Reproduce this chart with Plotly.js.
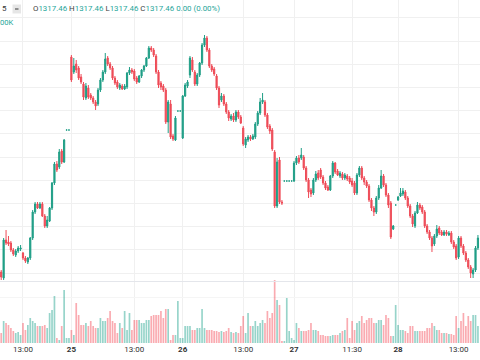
<!DOCTYPE html>
<html><head><meta charset="utf-8">
<script src="https://cdn.plot.ly/plotly-3.0.1.min.js"></script>
<style>html,body{margin:0;padding:0;background:#fff;}#chart{width:480px;height:360px;}</style>
</head><body><div id="chart"></div>
<script>
const openP = [
1317.8,1317.2,1321.0,1320.8,1320.7,1320.0,1319.5,1319.9,1320.1,1319.7,
1319.2,1318.8,1319.2,1321.2,1323.8,1324.6,1324.2,1324.6,1323.4,1322.4,
1322.9,1324.2,1326.7,1328.6,1328.3,1329.9,1328.8,1332.0,1332.0,1339.3,
1337.8,1338.6,1338.2,1337.3,1336.6,1335.2,1336.2,1335.5,1335.2,1334.8,
1334.6,1336.0,1337.0,1337.8,1339.2,1338.6,1338.2,1337.2,1336.8,1336.2,
1336.4,1336.1,1336.3,1337.7,1338.0,1337.9,1337.2,1336.8,1337.4,1338.0,
1338.4,1339.2,1340.2,1340.0,1339.4,1337.8,1336.7,1336.4,1336.0,1332.8,
1334.6,1331.4,1331.0,1333.9,1333.9,1331.2,1335.4,1336.4,1337.5,1339.0,
1337.8,1336.6,1337.5,1338.7,1340.5,1341.2,1340.0,1338.4,1338.1,1337.4,
1336.2,1335.0,1335.4,1334.6,1333.8,1333.1,1333.4,1333.0,1333.8,1333.3,
1332.2,1330.5,1331.0,1331.3,1331.1,1331.3,1332.6,1333.7,1334.8,1334.8,
1333.5,1332.4,1332.0,1329.8,1324.4,1329.0,1324.8,1326.9,1326.9,1326.9,
1326.9,1326.9,1328.7,1329.2,1329.2,1329.3,1328.2,1327.0,1326.0,1325.7,
1327.0,1327.7,1328.0,1327.3,1326.7,1326.3,1326.0,1327.4,1328.7,1327.9,
1327.4,1327.6,1327.2,1327.4,1327.2,1326.9,1326.7,1325.7,1327.5,1328.2,
1327.2,1326.8,1326.4,1325.0,1324.2,1323.8,1325.2,1326.2,1327.4,1326.5,
1325.5,1324.7,1322.1,1324.5,1325.0,1325.4,1325.6,1325.8,1325.2,1324.4,
1323.4,1322.4,1323.7,1324.5,1324.3,1323.8,1322.4,1321.8,1321.2,1320.6,
1321.4,1322.2,1321.8,1321.5,1321.8,1321.5,1321.7,1320.8,1320.4,1319.3,
1321.2,1320.4,1319.7,1319.0,1318.3,1317.6,1318.0,1320.2];
const highP = [
1318.0,1321.2,1322.0,1321.4,1320.9,1320.2,1320.1,1320.4,1320.5,1319.8,
1319.4,1319.3,1321.3,1324.0,1324.8,1324.8,1324.8,1324.8,1323.6,1323.4,
1324.3,1326.8,1328.8,1328.9,1330.1,1330.1,1331.1,1332.0,1332.0,1339.5,
1339.2,1339.0,1338.4,1337.6,1336.8,1336.7,1336.5,1335.7,1335.4,1335.0,
1336.2,1337.2,1338.0,1339.7,1339.4,1338.8,1338.4,1337.4,1337.0,1336.7,
1336.6,1336.6,1337.8,1338.3,1338.2,1338.1,1337.4,1337.5,1338.1,1338.5,
1339.3,1340.4,1340.4,1340.2,1339.6,1338.0,1336.9,1336.6,1336.2,1335.0,
1335.0,1331.6,1333.4,1333.9,1333.9,1335.5,1336.7,1337.0,1339.4,1339.3,
1338.0,1337.7,1338.8,1340.7,1341.5,1341.4,1340.2,1338.6,1338.3,1337.6,
1336.4,1335.7,1335.6,1334.8,1334.0,1333.6,1333.7,1334.0,1334.0,1333.5,
1332.4,1331.3,1331.5,1331.5,1331.6,1332.8,1333.9,1335.2,1335.7,1335.0,
1333.7,1332.6,1332.2,1330.0,1329.2,1329.3,1325.0,1326.9,1326.9,1326.9,
1326.9,1328.9,1329.4,1329.5,1330.2,1329.5,1328.4,1327.2,1326.2,1327.2,
1327.9,1328.0,1328.2,1327.5,1326.9,1326.5,1327.5,1328.9,1328.8,1328.1,
1327.9,1327.8,1327.7,1327.6,1327.4,1327.2,1326.9,1327.7,1328.4,1328.4,
1327.4,1327.0,1326.6,1325.2,1324.4,1325.4,1326.5,1328.0,1327.6,1326.7,
1325.7,1324.9,1322.5,1324.5,1325.4,1326.2,1326.2,1326.0,1325.4,1324.6,
1323.6,1323.9,1324.8,1324.7,1324.5,1324.0,1322.6,1322.0,1321.4,1321.6,
1322.5,1322.4,1322.0,1322.0,1322.0,1321.9,1321.9,1321.0,1320.6,1321.4,
1321.4,1320.6,1319.9,1319.2,1318.5,1318.2,1320.4,1321.5];
const lowP = [
1316.7,1317.0,1320.5,1320.4,1319.8,1319.4,1319.3,1319.7,1319.9,1319.0,
1318.7,1318.6,1319.0,1321.0,1323.6,1324.1,1324.1,1323.3,1322.2,1322.2,
1322.8,1324.0,1326.5,1327.8,1328.1,1328.6,1328.7,1332.0,1332.0,1336.8,
1337.6,1337.7,1337.0,1336.6,1335.0,1335.0,1335.1,1335.0,1334.6,1334.0,
1334.4,1335.8,1336.8,1337.6,1338.4,1338.0,1337.0,1336.5,1336.1,1336.0,
1336.0,1336.0,1336.1,1337.5,1337.6,1336.9,1336.6,1336.7,1337.2,1337.8,
1338.3,1339.1,1339.8,1339.3,1337.6,1336.2,1336.0,1335.8,1332.6,1331.7,
1331.1,1330.9,1330.9,1333.9,1333.9,1331.1,1335.3,1336.2,1337.2,1337.8,
1336.4,1336.4,1337.3,1338.5,1340.3,1339.8,1338.2,1337.8,1337.4,1336.0,
1334.2,1334.8,1334.4,1333.6,1332.9,1332.9,1332.8,1332.8,1333.1,1332.6,
1330.4,1330.2,1330.8,1330.9,1331.0,1331.1,1332.4,1333.5,1334.6,1333.3,
1332.1,1331.6,1329.9,1324.2,1324.2,1324.6,1324.5,1326.9,1326.9,1326.9,
1326.9,1326.8,1328.5,1328.6,1329.0,1328.0,1326.8,1325.2,1325.3,1325.5,
1326.8,1327.0,1327.1,1326.5,1326.0,1325.9,1325.9,1327.2,1327.6,1327.4,
1327.2,1327.0,1327.0,1326.9,1326.6,1326.3,1325.5,1325.5,1327.3,1327.0,
1326.5,1326.2,1324.8,1323.9,1323.4,1323.6,1325.0,1326.1,1326.3,1325.3,
1324.2,1321.1,1322.0,1324.5,1324.9,1325.3,1325.4,1325.0,1324.2,1323.2,
1322.3,1322.2,1323.6,1324.0,1323.6,1322.2,1321.6,1321.0,1319.8,1320.4,
1321.2,1321.5,1321.4,1321.4,1321.4,1321.4,1320.6,1320.1,1319.0,1319.1,
1320.2,1319.5,1318.8,1318.1,1317.2,1317.2,1317.8,1320.0];
const closeP = [
1317.3,1321.0,1320.7,1320.6,1320.0,1319.6,1319.9,1320.2,1320.2,1319.2,
1318.9,1319.2,1321.2,1323.8,1324.6,1324.2,1324.6,1323.4,1322.4,1323.0,
1324.2,1326.7,1328.6,1328.0,1329.8,1328.8,1331.0,1332.0,1332.0,1337.0,
1338.4,1338.0,1337.2,1336.8,1335.3,1336.4,1335.3,1335.2,1334.8,1334.4,
1336.0,1337.0,1337.8,1339.1,1338.6,1338.2,1337.2,1336.7,1336.3,1336.5,
1336.1,1336.4,1337.7,1338.0,1337.8,1337.1,1336.8,1337.4,1338.0,1338.4,
1339.2,1340.2,1340.0,1339.5,1337.8,1336.5,1336.3,1336.0,1332.8,1334.8,
1331.3,1331.1,1333.2,1333.9,1333.9,1335.4,1336.5,1336.8,1339.2,1338.0,
1336.6,1337.5,1338.7,1340.5,1341.2,1340.0,1338.4,1338.0,1337.6,1336.2,
1334.5,1335.4,1334.6,1333.8,1333.2,1333.4,1333.0,1333.8,1333.3,1332.7,
1330.6,1331.1,1331.3,1331.1,1331.4,1332.6,1333.7,1334.8,1335.0,1333.5,
1332.3,1331.9,1330.1,1324.4,1328.8,1324.8,1324.7,1326.9,1326.9,1326.9,
1326.9,1328.7,1329.2,1328.8,1329.5,1328.2,1327.0,1325.8,1325.6,1327.0,
1327.6,1327.2,1327.3,1326.7,1326.2,1326.0,1327.4,1328.7,1327.8,1327.5,
1327.7,1327.2,1327.5,1327.1,1326.8,1326.5,1325.7,1327.5,1328.2,1327.2,
1326.8,1326.4,1325.0,1324.2,1323.8,1325.2,1326.2,1327.4,1326.5,1325.5,
1324.5,1321.3,1322.4,1324.5,1325.3,1325.7,1325.9,1325.2,1324.4,1323.4,
1322.6,1323.7,1324.5,1324.2,1323.8,1322.4,1321.8,1321.2,1320.4,1321.4,
1322.1,1321.7,1321.5,1321.8,1321.6,1321.7,1320.8,1320.3,1319.2,1321.2,
1320.4,1319.7,1319.0,1318.3,1317.7,1318.0,1320.2,1321.2];
const volume = [
1000,2200,2000,1800,1500,1200,1000,1100,800,2000,
1300,1800,2500,2200,2000,1700,1700,1700,1800,1500,
3000,3300,4700,500,300,1700,5300,500,500,1300,
800,4000,2800,1800,1800,2000,1700,2200,1700,1500,
1500,2500,2200,2200,2500,3200,2200,2000,1000,2000,
1500,3200,1300,3000,1300,2300,2300,2300,2000,2000,
2300,2300,2700,2800,2800,2800,3200,2500,3400,3400,
300,800,800,4200,500,500,1700,1700,1700,1300,
1300,1500,1500,3400,1500,1300,1300,1300,1200,1200,
1100,1200,1100,1200,1500,1100,1000,1100,1000,1700,
2700,1000,3000,1700,1700,2200,1700,2000,2300,2000,
3200,2500,3000,6300,4300,3800,200,200,4500,1200,
500,300,2000,1500,1200,1200,1200,1300,2000,1300,
1300,1200,800,800,700,700,700,800,800,800,
1000,1200,1300,2500,500,2200,1300,2000,2200,2700,
2000,2300,2500,2500,2000,2000,2300,2300,1800,2800,
2500,700,700,3800,1800,1300,1300,1200,1000,1700,
1700,1200,1200,1200,1200,1200,1500,1500,2000,1700,
1300,1300,1000,1000,1000,900,900,800,2700,1500,
2200,3000,1700,2700,2200,2800,2800,1700];
const tickIndex = [9, 29, 55, 75, 100, 121, 145, 164, 189];
const tickLabels = ['13:00', '<b>25</b>', '13:00', '<b>26</b>', '13:00', '<b>27</b>', '11:30', '<b>28</b>', '13:00'];

const UP = '#1f9e86', DOWN = '#ee4b57';
const UPV = 'rgba(8,153,129,0.42)', DOWNV = 'rgba(242,54,69,0.42)';
const idx = openP.map((_, i) => i);
const volColors = openP.map((o, i) => closeP[i] >= o ? UPV : DOWNV);

const W = 480, PH = 343; // plot area height (px)
const px = x => x / W;
const py = y => (PH - y) / PH;

const traces = [
  {type: 'candlestick', x: idx, open: openP, high: highP, low: lowP, close: closeP,
   xaxis: 'x', yaxis: 'y', whiskerwidth: 0, hoverinfo: 'skip', showlegend: false,
   increasing: {line: {color: UP, width: 1}, fillcolor: UP},
   decreasing: {line: {color: DOWN, width: 1}, fillcolor: DOWN}},
  {type: 'bar', x: idx, y: volume, xaxis: 'x', yaxis: 'y2', hoverinfo: 'skip', showlegend: false,
   marker: {color: volColors, line: {width: 0}}}
];

const VAL = '#26a69a';
const legendText = 'O<span style="color:' + VAL + '">1317.46</span> H<span style="color:' + VAL + '">1317.46</span> L<span style="color:' + VAL + '">1317.46</span> C<span style="color:' + VAL + '">1317.46</span> <span style="color:' + VAL + '">0.00 (0.00%)</span>';

const layout = {
  width: 480, height: 360,
  margin: {l: 0, r: 0, t: 0, b: 17},
  paper_bgcolor: '#ffffff', plot_bgcolor: '#ffffff',
  font: {family: 'Roboto, Arial, sans-serif', size: 8, color: '#333'},
  showlegend: false, hovermode: false, bargap: 0.3,
  xaxis: {range: [-0.5, 197.85], tickmode: 'array', tickvals: tickIndex, ticktext: tickLabels,
    showgrid: true, gridcolor: '#f0f0f0', gridwidth: 1, zeroline: false, showline: false,
    ticks: '', tickfont: {size: 8, color: '#333'}, rangeslider: {visible: false}, anchor: 'y2', fixedrange: true},
  yaxis: {domain: [py(282), 1], range: [1316.8, 1345], tick0: 1340.9, dtick: 2.32,
    showticklabels: false, showgrid: true, gridcolor: '#f0f0f0', zeroline: false, fixedrange: true},
  yaxis2: {domain: [0, py(280)], range: [0, 6300], tickmode: 'array', tickvals: [4600],
    showticklabels: false, showgrid: true, gridcolor: '#f5f5f5', zeroline: false, fixedrange: true},
  shapes: [
    {type: 'line', xref: 'paper', yref: 'paper', x0: 0, x1: 1, y0: py(281.5), y1: py(281.5), line: {color: '#e4e6eb', width: 1}},
    {type: 'rect', xref: 'paper', yref: 'paper', x0: px(12.5), x1: px(21), y0: py(13.5), y1: py(4.5), fillcolor: '#e6e6e6', line: {width: 0}},
    {type: 'line', xref: 'paper', yref: 'paper', x0: px(15), x1: px(18.5), y0: py(9), y1: py(9), line: {color: '#555', width: 1.2}}
  ],
  annotations: [
    {xref: 'paper', yref: 'paper', x: px(0), y: py(8.5), xanchor: 'left', yanchor: 'middle', showarrow: false,
     text: '5', font: {size: 8, color: '#333'}},
    {xref: 'paper', yref: 'paper', x: px(30.5), y: py(8.5), xanchor: 'left', yanchor: 'middle', showarrow: false,
     text: legendText, font: {size: 7.9, color: '#3d3d3d'}},
    {xref: 'paper', yref: 'paper', x: px(-2), y: py(22), xanchor: 'left', yanchor: 'middle', showarrow: false,
     text: '00K', font: {size: 7.6, color: VAL}}
  ]
};

Plotly.newPlot('chart', traces, layout, {staticPlot: true, displayModeBar: false});
</script>
</body></html>
